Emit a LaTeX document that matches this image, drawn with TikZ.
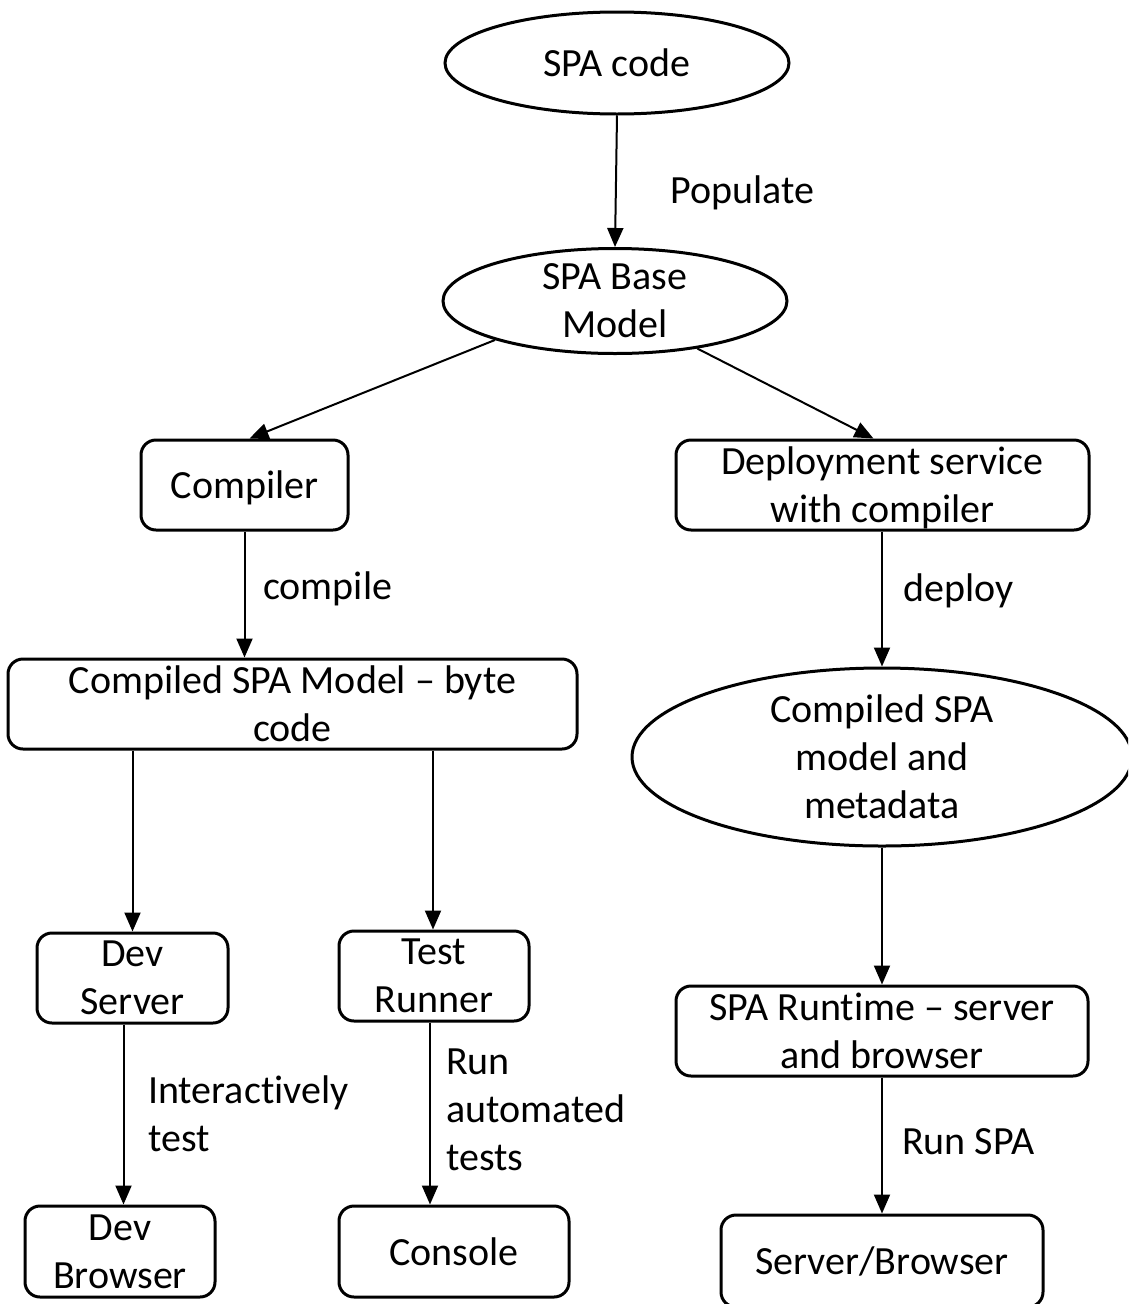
\documentclass[tikz,border=0pt]{standalone}
\usepackage{fontspec}
\setmainfont{Carlito}[Ligatures={NoCommon}]
\usetikzlibrary{shapes.geometric,arrows.meta,calc}
\begin{document}
\begin{tikzpicture}[x=1pt,y=-1pt,
  every node/.style={font=\fontsize{40}{48}\selectfont, inner sep=0pt, align=center, text depth=0pt},
  oval/.style={ellipse, draw, line width=3pt},
  box/.style={rectangle, draw, line width=3pt, rounded corners=15pt},
  arr/.style={line width=2pt, -{Triangle[length=19pt,width=16pt]}},
  lbl/.style={anchor=west, align=left}]
\clip (0,0) rectangle (1128,1304);

% shapes
\node[oval, minimum width=344pt, minimum height=102pt] (code) at (617,63) {SPA code};
\node[oval, minimum width=344pt, minimum height=105pt] (base) at (615,301) {SPA Base\\Model};
\node[box, minimum width=207pt, minimum height=90pt] (comp) at (244.5,485) {Compiler};
\node[box, minimum width=413pt, minimum height=90pt] (dep) at (882.5,485) {Deployment service\\with compiler};
\node[box, minimum width=569pt, minimum height=90pt] (cmodel) at (292.5,704) {Compiled SPA Model -- byte\\code};
\node[oval, minimum width=500pt, minimum height=178pt] (meta) at (882,757) {Compiled SPA\\model and\\metadata};
\node[box, minimum width=191pt, minimum height=90pt] (devs) at (132.5,978) {Dev\\Server};
\node[box, minimum width=190pt, minimum height=90pt] (test) at (434,976) {Test\\Runner};
\node[box, minimum width=412pt, minimum height=90pt] (rt) at (882,1031) {SPA Runtime -- server\\and browser};
\node[box, minimum width=190pt, minimum height=91pt] (devb) at (120,1251.5) {Dev\\Browser};
\node[box, minimum width=230pt, minimum height=91pt] (cons) at (454,1251.5) {Console};
\node[box, minimum width=322pt, minimum height=92pt] (sb) at (882,1261) {Server/Browser};

% connectors
\draw[arr] (code.south) -- (base.north);
\draw[arr] (base.198) -- ($(comp.north)+(5,0)$);
\draw[arr] (base.330) -- ($(dep.north)+(-9,0)$);
\draw[arr] (comp.south) -- (comp.south |- cmodel.north);
\draw[arr] (devs.north |- cmodel.south) -- (devs.north);
\draw[arr] ($(test.north |- cmodel.south)+(-1,0)$) coordinate (t0) -- (t0 |- test.north);
\draw[arr] (meta.north |- dep.south) -- (meta.north);
\draw[arr] (meta.south) -- (rt.north);
\draw[arr] ($(devs.south)+(-9,0)$) coordinate (d0) -- (d0 |- devb.north);
\draw[arr] ($(test.south)+(-4,0)$) coordinate (c0) -- (c0 |- cons.north);
\draw[arr] (rt.south) -- (sb.north);

% connector labels
\node[lbl] (lpop) at (670,190) {Populate};
\node[lbl] (lcomp) at (263,586) {compile};
\node[lbl] (ldep) at (903,588) {deploy};
\node[lbl] (lint) at (148,1114) {Interactively\\test};
\node[lbl] (lrun) at (446,1110) {Run\\automated\\tests};
\node[lbl] (lspa) at (902,1142) {Run SPA};
\end{tikzpicture}
\end{document}
